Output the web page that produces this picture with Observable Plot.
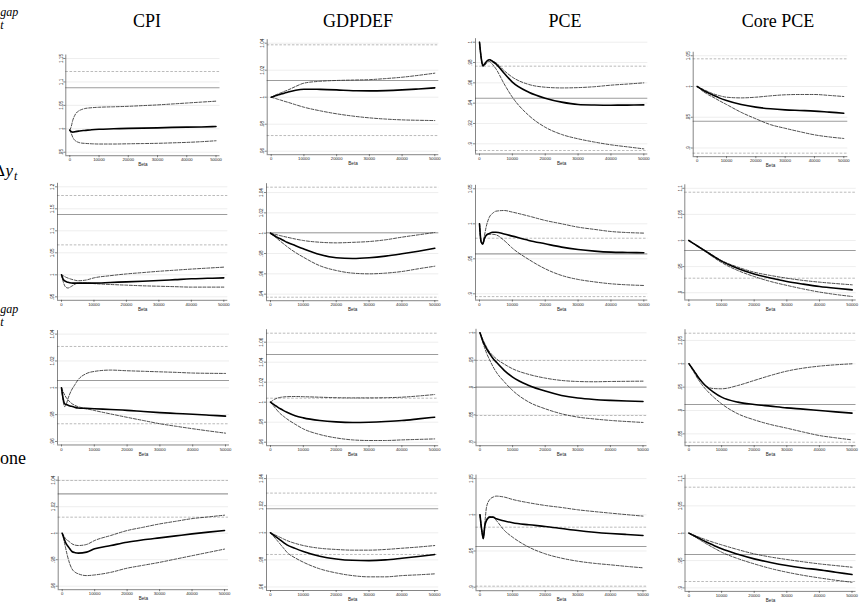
<!DOCTYPE html>
<html>
<head>
<meta charset="utf-8">
<script src="https://cdn.jsdelivr.net/npm/d3@7"></script>
<script src="https://cdn.jsdelivr.net/npm/@observablehq/plot@0.6"></script>
<style>
  html, body { margin: 0; padding: 0; background: #fff; }
  #page { position: relative; width: 868px; height: 606px; overflow: hidden; background: #fff; }
  #page svg { position: absolute; left: 0; top: 0; }
</style>
</head>
<body>
<div id="page"></div>
<script>
// Smoothing parameter grid (x axis of every panel)
const beta = [0, 500, 1000, 1500, 2000, 3000, 4000, 5000, 7500, 10000, 15000, 20000, 25000, 30000, 35000, 40000, 45000, 50000];
const betaTicks = [0, 10000, 20000, 30000, 40000, 50000];

// Column titles (inflation measure) and row forcing variables
const measures = ["CPI", "GDPDEF", "PCE", "Core PCE"];
const forcing = ["y gap", "Δy", "u gap", "None"];

// Each panel: estimate, upper and lower band, benchmark [low, centre, high], y tick values
// Row 1: output gap
const ygapCPI = {
  est:   [0.997, 0.994, 0.993, 0.9935, 0.994, 0.995, 0.996, 0.9965, 0.998, 0.999, 1.0, 1.001, 1.0015, 1.002, 1.003, 1.0035, 1.004, 1.005],
  upper: [0.997, 1.005, 1.018, 1.026, 1.032, 1.038, 1.041, 1.043, 1.045, 1.046, 1.047, 1.048, 1.0495, 1.051, 1.053, 1.055, 1.057, 1.059],
  lower: [0.997, 0.99, 0.982, 0.977, 0.974, 0.971, 0.9695, 0.969, 0.968, 0.9675, 0.9675, 0.968, 0.9685, 0.969, 0.970, 0.971, 0.9725, 0.9745],
  bench: [null, 1.0875, 1.1223],
  ticks: [0.95, 1, 1.05, 1.1, 1.15]
};
const ygapGDPDEF = {
  est:   [1.0, 1.0004, 1.0008, 1.0012, 1.0016, 1.0023, 1.003, 1.0037, 1.0052, 1.0059, 1.0058, 1.0054, 1.0048, 1.0047, 1.0049, 1.0054, 1.0061, 1.0069],
  upper: [1.0, 1.0006, 1.0012, 1.0018, 1.0023, 1.0033, 1.0043, 1.0052, 1.008, 1.0104, 1.0118, 1.0124, 1.0127, 1.013, 1.0138, 1.0148, 1.0162, 1.0178],
  lower: [1.0, 0.9996, 0.9993, 0.9989, 0.9985, 0.9978, 0.997, 0.9963, 0.9944, 0.9926, 0.9899, 0.9877, 0.986, 0.9847, 0.9838, 0.9832, 0.9829, 0.9827],
  bench: [0.9716, 1.0124, 1.0388],
  ticks: [0.96, 0.98, 1, 1.02, 1.04]
};
const ygapPCE = {
  est:   [1.0, 0.985, 0.977, 0.978, 0.9805, 0.9827, 0.981, 0.9787, 0.9695, 0.9607, 0.9508, 0.9449, 0.941, 0.9387, 0.9382, 0.938, 0.9381, 0.9383],
  upper: [1.0, 0.986, 0.978, 0.979, 0.981, 0.983, 0.9815, 0.9797, 0.972, 0.9656, 0.9584, 0.9557, 0.955, 0.9553, 0.9562, 0.9577, 0.9588, 0.96],
  lower: [1.0, 0.984, 0.976, 0.977, 0.979, 0.981, 0.978, 0.9738, 0.959, 0.9459, 0.9279, 0.9163, 0.9092, 0.9049, 0.9017, 0.899, 0.897, 0.895],
  bench: [0.8934, 0.9449, 0.9764],
  ticks: [0.9, 0.92, 0.94, 0.96, 0.98, 1]
};
const ygapCore = {
  est:   [1.0, 0.9985, 0.997, 0.9955, 0.994, 0.9915, 0.989, 0.987, 0.9815, 0.9772, 0.9707, 0.9664, 0.9637, 0.962, 0.961, 0.96, 0.9583, 0.9566],
  upper: [1.0, 0.9988, 0.9976, 0.9965, 0.9955, 0.9932, 0.991, 0.989, 0.9852, 0.9826, 0.9815, 0.9826, 0.9848, 0.9865, 0.987, 0.987, 0.9855, 0.9837],
  lower: [1.0, 0.998, 0.996, 0.994, 0.992, 0.989, 0.986, 0.9837, 0.977, 0.9707, 0.958, 0.9475, 0.938, 0.932, 0.9265, 0.9214, 0.918, 0.9155],
  bench: [0.8916, 0.9436, 1.045],
  ticks: [0.9, 0.95, 1, 1.05]
};

// Row 2: output growth
const dyCPI = {
  est:   [1.0, 0.99, 0.986, 0.984, 0.983, 0.9815, 0.981, 0.981, 0.981, 0.981, 0.9825, 0.984, 0.9855, 0.987, 0.989, 0.991, 0.992, 0.993],
  upper: [1.0, 0.998, 0.996, 0.994, 0.9925, 0.99, 0.988, 0.9865, 0.988, 0.993, 0.998, 1.002, 1.005, 1.008, 1.0105, 1.013, 1.0152, 1.0174],
  lower: [1.0, 0.985, 0.975, 0.971, 0.97, 0.9735, 0.978, 0.981, 0.9815, 0.98, 0.978, 0.9765, 0.975, 0.974, 0.973, 0.972, 0.972, 0.972],
  bench: [1.068, 1.137, 1.1802],
  ticks: [0.95, 1, 1.05, 1.1, 1.15, 1.2]
};
const dyGDPDEF = {
  est:   [1.0, 0.999, 0.998, 0.997, 0.996, 0.9945, 0.9928, 0.9911, 0.9878, 0.9846, 0.979, 0.9758, 0.9751, 0.9758, 0.9774, 0.9797, 0.9823, 0.9852],
  upper: [1.0, 0.9996, 0.9992, 0.9988, 0.9984, 0.9976, 0.9968, 0.9961, 0.9943, 0.9928, 0.9911, 0.9905, 0.991, 0.9918, 0.9935, 0.9961, 0.9984, 1.0007],
  lower: [1.0, 0.9986, 0.9973, 0.996, 0.9947, 0.9921, 0.9895, 0.9869, 0.9812, 0.9764, 0.968, 0.9633, 0.9607, 0.96, 0.9607, 0.9623, 0.965, 0.9675],
  bench: [0.937, 1.0004, 1.0453],
  ticks: [0.94, 0.96, 0.98, 1, 1.02, 1.04]
};
const dyPCE = {
  est:   [1.0, 0.974, 0.971, 0.979, 0.9833, 0.9862, 0.988, 0.988, 0.9855, 0.9824, 0.9762, 0.9714, 0.9667, 0.9633, 0.961, 0.9595, 0.959, 0.9586],
  upper: [1.0, 0.974, 0.973, 0.983, 0.995, 1.0095, 1.015, 1.018, 1.019, 1.0167, 1.011, 1.0048, 1.0, 0.9952, 0.992, 0.989, 0.9875, 0.9867],
  lower: [1.0, 0.974, 0.971, 0.978, 0.983, 0.985, 0.985, 0.9843, 0.9762, 0.9652, 0.949, 0.9357, 0.9262, 0.9205, 0.917, 0.9143, 0.9128, 0.9119],
  bench: [0.896, 0.957, 0.9794],
  ticks: [0.9, 0.95, 1, 1.05]
};
const dyCore = {
  est:   [1.0, 0.998, 0.996, 0.994, 0.992, 0.988, 0.984, 0.98, 0.97, 0.9604, 0.9465, 0.936, 0.928, 0.9215, 0.9165, 0.912, 0.9085, 0.9055],
  upper: [1.0, 0.998, 0.996, 0.994, 0.992, 0.9885, 0.985, 0.981, 0.971, 0.9617, 0.949, 0.9393, 0.933, 0.9278, 0.9235, 0.9202, 0.9175, 0.9151],
  lower: [1.0, 0.998, 0.9958, 0.9937, 0.9916, 0.9874, 0.9832, 0.979, 0.968, 0.9579, 0.9425, 0.931, 0.9215, 0.914, 0.9072, 0.9012, 0.8965, 0.8927],
  bench: [0.9278, 0.9808, 1.0925],
  ticks: [0.9, 0.95, 1, 1.05, 1.1]
};

// Row 3: unemployment gap
const ugapCPI = {
  est:   [1.0, 0.992, 0.988, 0.9875, 0.987, 0.9862, 0.9855, 0.985, 0.9847, 0.9844, 0.9838, 0.9832, 0.9823, 0.9815, 0.9809, 0.9803, 0.9796, 0.9789],
  upper: [1.0, 0.99, 0.986, 0.988, 0.992, 0.998, 1.002, 1.0058, 1.0105, 1.0122, 1.0132, 1.0127, 1.0123, 1.0119, 1.0115, 1.011, 1.0108, 1.0107],
  lower: [1.0, 0.997, 0.9945, 0.9925, 0.991, 0.9885, 0.987, 0.986, 0.9845, 0.9831, 0.9805, 0.978, 0.9756, 0.9732, 0.9713, 0.9695, 0.9678, 0.9662],
  bench: [0.9732, 1.0054, 1.0308],
  ticks: [0.96, 0.98, 1, 1.02, 1.04]
};
const ugapGDPDEF = {
  est:   [1.0, 0.9988, 0.9977, 0.9966, 0.9955, 0.9934, 0.9916, 0.99, 0.9865, 0.9843, 0.9817, 0.9803, 0.9797, 0.98, 0.9807, 0.9817, 0.9833, 0.985],
  upper: [1.0, 1.0013, 1.0025, 1.0033, 1.004, 1.0048, 1.0053, 1.0055, 1.0057, 1.0055, 1.005, 1.0045, 1.0043, 1.0043, 1.0045, 1.005, 1.0062, 1.0077],
  lower: [1.0, 0.998, 0.996, 0.994, 0.992, 0.9885, 0.9858, 0.9833, 0.978, 0.9733, 0.9677, 0.9643, 0.9623, 0.9617, 0.9617, 0.9623, 0.9628, 0.9633],
  bench: [1.004, 1.0477, 1.069],
  ticks: [0.96, 0.98, 1, 1.02, 1.04, 1.06]
};
const ugapPCE = {
  est:   [1.0, 0.991, 0.983, 0.977, 0.971, 0.9615, 0.953, 0.9464, 0.931, 0.919, 0.9038, 0.8934, 0.8855, 0.8807, 0.878, 0.8764, 0.8753, 0.8745],
  upper: [1.0, 0.993, 0.986, 0.98, 0.974, 0.9645, 0.958, 0.9525, 0.9425, 0.9342, 0.9239, 0.9172, 0.9129, 0.911, 0.9105, 0.911, 0.9113, 0.9116],
  lower: [1.0, 0.99, 0.98, 0.971, 0.963, 0.95, 0.938, 0.9281, 0.91, 0.8946, 0.8733, 0.8611, 0.852, 0.8459, 0.8425, 0.8398, 0.8378, 0.8361],
  bench: [0.8488, 0.9006, 0.9494],
  ticks: [0.8, 0.85, 0.9, 0.95, 1]
};
const ugapCore = {
  est:   [1.0, 0.995, 0.99, 0.985, 0.98, 0.9695, 0.961, 0.9536, 0.9395, 0.9286, 0.9179, 0.9129, 0.9093, 0.9057, 0.903, 0.9, 0.897, 0.8943],
  upper: [1.0, 0.995, 0.99, 0.985, 0.98, 0.97, 0.961, 0.9536, 0.947, 0.9465, 0.9536, 0.9643, 0.975, 0.9843, 0.9907, 0.995, 0.9979, 1.0],
  lower: [1.0, 0.994, 0.988, 0.982, 0.976, 0.9645, 0.955, 0.9465, 0.929, 0.9143, 0.8929, 0.88, 0.87, 0.8622, 0.854, 0.8464, 0.8415, 0.8371],
  bench: [0.8321, 0.9129, 1.0655],
  ticks: [0.85, 0.9, 0.95, 1, 1.05]
};

// Row 4: no forcing variable
const noneCPI = {
  est:   [1.0, 0.9965, 0.9932, 0.991, 0.9894, 0.9862, 0.9853, 0.985, 0.9857, 0.9882, 0.9907, 0.9932, 0.995, 0.9965, 0.998, 0.9995, 1.0008, 1.002],
  upper: [1.0, 0.998, 0.996, 0.9948, 0.994, 0.992, 0.991, 0.9907, 0.9915, 0.9945, 0.9983, 1.002, 1.0045, 1.007, 1.009, 1.011, 1.0123, 1.0136],
  lower: [1.0, 0.995, 0.9894, 0.984, 0.9794, 0.9731, 0.9705, 0.9693, 0.968, 0.9685, 0.9705, 0.9736, 0.9758, 0.978, 0.9805, 0.983, 0.9855, 0.988],
  bench: [1.0121, 1.0297, 1.0398],
  ticks: [0.96, 0.98, 1, 1.02, 1.04]
};
const noneGDPDEF = {
  est:   [1.0, 0.9991, 0.9982, 0.9973, 0.9964, 0.9946, 0.9928, 0.9911, 0.9885, 0.9862, 0.9827, 0.9807, 0.9797, 0.9795, 0.98, 0.9812, 0.9825, 0.984],
  upper: [1.0, 0.9994, 0.9989, 0.9983, 0.9977, 0.9966, 0.9954, 0.9943, 0.9922, 0.9906, 0.9886, 0.9877, 0.9872, 0.9872, 0.9877, 0.9886, 0.9895, 0.9906],
  lower: [1.0, 0.9986, 0.9972, 0.9958, 0.9944, 0.9915, 0.9886, 0.9857, 0.9815, 0.9783, 0.9734, 0.9704, 0.9684, 0.9675, 0.9675, 0.9684, 0.969, 0.9697],
  bench: [0.984, 1.0178, 1.0293],
  ticks: [0.96, 0.98, 1, 1.02, 1.04]
};
const nonePCE = {
  est:   [1.0, 0.98, 0.967, 0.9853, 0.9922, 0.9968, 0.9968, 0.9945, 0.9915, 0.989, 0.9862, 0.9839, 0.9811, 0.9783, 0.976, 0.9742, 0.9728, 0.9715],
  upper: [1.0, 0.98, 0.9715, 0.99, 1.0106, 1.0212, 1.0244, 1.0258, 1.0244, 1.0212, 1.0166, 1.0129, 1.0101, 1.0069, 1.0045, 1.0023, 1.0002, 0.9982],
  lower: [1.0, 0.98, 0.967, 0.985, 0.9936, 0.9977, 0.9968, 0.9922, 0.9783, 0.9691, 0.9553, 0.9461, 0.9401, 0.9359, 0.933, 0.9309, 0.9287, 0.9268],
  bench: [0.9014, 0.9562, 0.9829],
  ticks: [0.9, 0.95, 1, 1.05]
};
const noneCore = {
  est:   [1.0, 0.9985, 0.997, 0.9955, 0.994, 0.991, 0.9878, 0.9848, 0.978, 0.9714, 0.9615, 0.9531, 0.9465, 0.9409, 0.9365, 0.933, 0.9287, 0.9244],
  upper: [1.0, 0.9988, 0.9977, 0.9965, 0.9954, 0.993, 0.9907, 0.9884, 0.9833, 0.9787, 0.97, 0.9622, 0.9565, 0.9519, 0.9477, 0.9439, 0.9408, 0.9378],
  lower: [1.0, 0.9982, 0.9964, 0.9946, 0.9927, 0.989, 0.9853, 0.9817, 0.9733, 0.9653, 0.9535, 0.9439, 0.9355, 0.9287, 0.923, 0.9183, 0.914, 0.9104],
  bench: [0.9117, 0.961, 1.0841],
  ticks: [0.9, 0.95, 1, 1.05, 1.1]
};

const grid = [
  [ygapCPI, ygapGDPDEF, ygapPCE, ygapCore],
  [dyCPI, dyGDPDEF, dyPCE, dyCore],
  [ugapCPI, ugapGDPDEF, ugapPCE, ugapCore],
  [noneCPI, noneGDPDEF, nonePCE, noneCore]
];

// Page layout of each panel: [pixel of beta=0, pixel of beta=50000, pixel of y=1, pixels per unit of y]
const frames = [
  [[69.3, 215.5, 128.3, 468.5], [270.7, 434.3, 96.7, 1350], [479, 643.3, 41.7, 1016], [696.7, 843.3, 86, 615]],
  [[61, 223.3, 274.3, 440], [270, 434.3, 232.7, 1016], [479, 643.3, 223.3, 700], [688.3, 851.7, 240, 522]],
  [[61, 225, 387.3, 1342], [270, 434.2, 401.7, 1000], [479.5, 642.5, 332.3, 547], [688.5, 851.5, 363.3, 467]],
  [[61.7, 224, 532.7, 1325], [270, 434.2, 532.3, 1355], [479.5, 642.5, 514.3, 724], [688.5, 851.5, 532.7, 547]]
];

const W = 868, H = 606;
const page = document.getElementById("page");
const fmtTick = v => { const s = String(+v.toFixed(2)); return s.startsWith("0.") ? s.slice(1) : s; };
const tickFont = "Liberation Sans, Arial, sans-serif";

grid.forEach((row, r) => row.forEach((p, c) => {
  const [x0, x50, p1, k] = frames[r][c];
  const pix = v => p1 - (v - 1) * k;
  const val = px => 1 - (px - p1) / k;
  const values = [...p.est, ...p.upper, ...p.lower, ...p.bench.filter(b => b != null)];
  const top = Math.min(pix(d3.max(p.ticks)), pix(d3.max(values))) - 3.5;
  const bottom = Math.max(pix(d3.min(p.ticks)), pix(d3.min(values))) + 3.5;
  const kx = (x50 - x0) / 50000;
  const xl = x0 - 4, xr = x50 + 4;
  const xDomain = [-4 / kx, 50000 + 4 / kx];
  const yDomain = [val(bottom), val(top)];

  const estRows = beta.map((b, i) => ({beta: b, value: p.est[i]}));
  const bandRows = [
    ...beta.map((b, i) => ({beta: b, value: p.upper[i], series: "upper"})),
    ...beta.map((b, i) => ({beta: b, value: p.lower[i], series: "lower"}))
  ];
  const benchBand = [p.bench[0], p.bench[2]].filter(b => b != null);

  const svg = Plot.plot({
    width: W, height: H,
    marginLeft: xl, marginRight: W - xr, marginTop: top, marginBottom: H - bottom,
    x: {domain: xDomain},
    y: {domain: yDomain},
    style: {background: "none", fontFamily: tickFont, overflow: "visible"},
    marks: [
      Plot.gridY(p.ticks, {stroke: "#e3e3e3", strokeOpacity: 1, strokeWidth: 0.6}),
      Plot.ruleY([p.bench[1]], {stroke: "#9c9c9c", strokeWidth: 1.1}),
      Plot.ruleY(benchBand, {stroke: "#b3b3b3", strokeWidth: 0.9, strokeDasharray: "2.6,1.6"}),
      Plot.line(bandRows, {x: "beta", y: "value", z: "series", curve: "monotone-x", stroke: "#2b2b2b", strokeWidth: 0.85, strokeDasharray: "3,1.6"}),
      Plot.line(estRows, {x: "beta", y: "value", curve: "monotone-x", stroke: "#000", strokeWidth: 1.6}),
      Plot.ruleX([xDomain[0]], {stroke: "#333", strokeWidth: 0.6}),
      Plot.ruleY([yDomain[0]], {stroke: "#333", strokeWidth: 0.6}),
      Plot.axisY({ticks: p.ticks, tickSize: 2, tickFormat: () => "", label: null, stroke: "#333", strokeWidth: 0.6}),
      Plot.axisX({ticks: betaTicks, tickSize: 2, tickFormat: () => "", label: null, stroke: "#333", strokeWidth: 0.6}),
      Plot.text(p.ticks, {y: d => d, text: fmtTick, frameAnchor: "left", rotate: -90, textAnchor: "middle", lineAnchor: "bottom", dx: -3.2, fontSize: 4.6, fill: "#222"}),
      Plot.text(betaTicks, {x: d => d, text: d => String(d), frameAnchor: "bottom", lineAnchor: "top", dy: 2.6, fontSize: 4.2, fill: "#222"}),
      Plot.text(["Beta"], {text: d => d, frameAnchor: "bottom", lineAnchor: "top", dy: 7.4, fontSize: 4.6, fill: "#222"})
    ]
  });
  svg.style.position = "absolute";
  svg.style.left = "0px";
  svg.style.top = "0px";
  page.appendChild(svg);
}));

// Column titles and row labels
const labels = d3.create("svg").attr("width", W).attr("height", H)
  .style("position", "absolute").style("left", "0px").style("top", "0px");
const serif = "Liberation Serif, Times New Roman, serif";
const titleX = [147, 358, 565, 778];
measures.forEach((m, i) => {
  labels.append("text").attr("x", titleX[i]).attr("y", 26.5).attr("text-anchor", "middle")
    .attr("font-family", serif).attr("font-size", 18).attr("fill", "#000").text(m);
});

function scripted(base, baseX, baseY, sup, sub, scriptX, supY, subY) {
  const g = labels.append("g").attr("font-family", serif).attr("font-style", "italic").attr("fill", "#000");
  g.append("text").attr("x", baseX).attr("y", baseY).attr("font-size", 17).text(base);
  if (sup) g.append("text").attr("x", scriptX).attr("y", supY).attr("font-size", 12).text(sup);
  if (sub) g.append("text").attr("x", scriptX).attr("y", subY).attr("font-size", 12).text(sub);
}
// y_t^gap
scripted("y", -8.5, 24, "gap", "t", 0.3, 15.5, 29);
// Δy_t
labels.append("text").attr("x", -6).attr("y", 176).attr("font-family", serif).attr("font-size", 17).text("Δ");
scripted("y", 5.5, 176, null, "t", 14, 0, 180);
// u_t^gap
scripted("u", -9, 321, "gap", "t", 0.3, 313, 326);
// None
labels.append("text").attr("x", -13).attr("y", 464).attr("font-family", serif).attr("font-size", 18).text(forcing[3]);

page.appendChild(labels.node());
</script>
</body>
</html>
